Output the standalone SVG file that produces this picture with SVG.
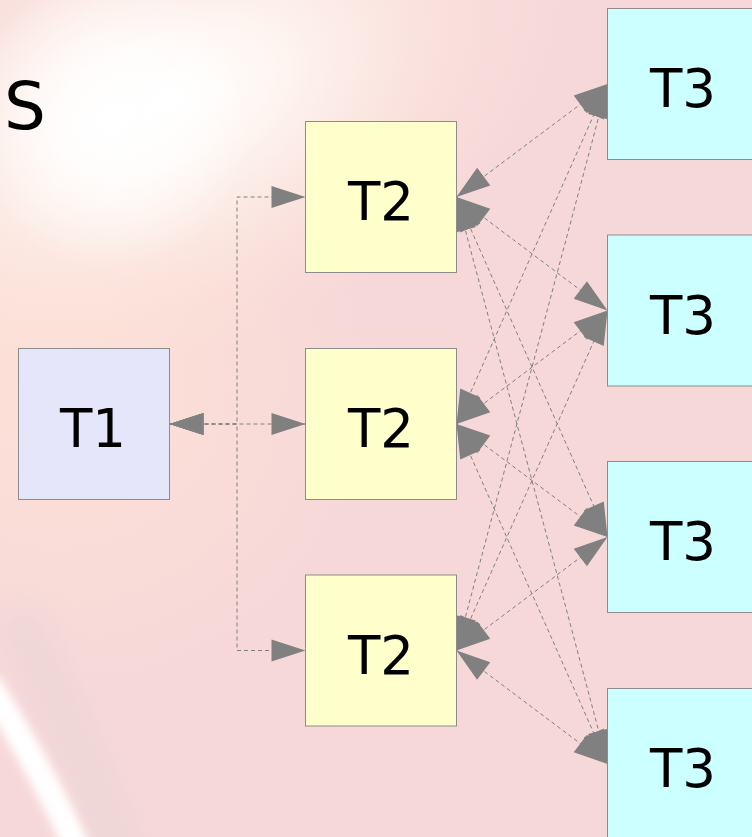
<svg xmlns="http://www.w3.org/2000/svg" width="752" height="837" viewBox="0 0 752 837">
  <defs>
    <radialGradient id="glow" cx="0.5" cy="0.5" r="0.5">
      <stop offset="0" stop-color="#ffffff" stop-opacity="1"/>
      <stop offset="0.25" stop-color="#fffaf6" stop-opacity="0.9"/>
      <stop offset="0.55" stop-color="#fdeee6" stop-opacity="0.65"/>
      <stop offset="0.8" stop-color="#fce6dd" stop-opacity="0.3"/>
      <stop offset="1" stop-color="#fce4dc" stop-opacity="0"/>
    </radialGradient>
    <radialGradient id="core" cx="0.5" cy="0.5" r="0.5">
      <stop offset="0" stop-color="#ffffff" stop-opacity="1"/>
      <stop offset="0.5" stop-color="#ffffff" stop-opacity="0.6"/>
      <stop offset="1" stop-color="#ffffff" stop-opacity="0"/>
    </radialGradient>
    <radialGradient id="warm" cx="0.5" cy="0.5" r="0.5">
      <stop offset="0" stop-color="#fde2d8" stop-opacity="0.9"/>
      <stop offset="0.6" stop-color="#fbdfd6" stop-opacity="0.55"/>
      <stop offset="1" stop-color="#f8dbd8" stop-opacity="0"/>
    </radialGradient>
    <filter id="soft" x="-50%" y="-50%" width="200%" height="200%">
      <feGaussianBlur stdDeviation="5"/>
    </filter>
    <filter id="softer" x="-50%" y="-50%" width="200%" height="200%">
      <feGaussianBlur stdDeviation="14"/>
    </filter>
    <marker id="head" markerUnits="userSpaceOnUse" markerWidth="34" markerHeight="22"
            refX="34" refY="11" orient="auto-start-reverse" overflow="visible">
      <path d="M0,0 L34,11 L0,22 z" fill="#808080"/>
    </marker>
    <style>
      .box { stroke: #8c8c8c; stroke-width: 1; }
      .t1 { fill: #e6e6fa; }
      .t2 { fill: #ffffcc; }
      .t3 { fill: #ccffff; }
      .lbl { font-family: "DejaVu Sans", "Liberation Sans", sans-serif; font-size: 53px; fill: #000; text-anchor: middle; }
      .edge { fill: none; stroke: #808080; stroke-width: 1; stroke-dasharray: 4 3; marker-start: url(#head); marker-end: url(#head); }
    </style>
  </defs>

  <!-- backdrop: soft pink with a bright highlight and a pale rim -->
  <g id="backdrop">
    <rect x="0" y="0" width="752" height="837" fill="#f7d8d9"/>
    <ellipse cx="60" cy="380" rx="330" ry="330" fill="url(#warm)"/>
    <ellipse cx="170" cy="100" rx="420" ry="250" transform="rotate(-24 170 100)" fill="url(#glow)"/>
    <ellipse cx="110" cy="120" rx="140" ry="150" fill="url(#core)"/>
    <path d="M15,610 Q75,735 125,860" fill="none" stroke="#e0d4d4" stroke-width="45" opacity="0.4" filter="url(#softer)"/>
    <path d="M-12,684 Q42,770 78,850" fill="none" stroke="#ffffff" stroke-width="26" filter="url(#soft)"/>
    <text x="4" y="129" font-family="DejaVu Sans, sans-serif" font-size="66" fill="#000">S</text>
  </g>

  <!-- connectors -->
  <g id="connectors">
    <path class="edge" d="M169.5,424 H237 V197 H305.5"/>
    <path class="edge" d="M169.5,424 H305.5"/>
    <path class="edge" d="M169.5,424 H237 V650.5 H305.5"/>

    <path class="edge" d="M456.5,197 L607.5,84"/>
    <path class="edge" d="M456.5,197 L607.5,310.5"/>
    <path class="edge" d="M456.5,197 L607.5,537"/>
    <path class="edge" d="M456.5,197 L607.5,764"/>

    <path class="edge" d="M456.5,424 L607.5,84"/>
    <path class="edge" d="M456.5,424 L607.5,310.5"/>
    <path class="edge" d="M456.5,424 L607.5,537"/>
    <path class="edge" d="M456.5,424 L607.5,764"/>

    <path class="edge" d="M456.5,650.5 L607.5,84"/>
    <path class="edge" d="M456.5,650.5 L607.5,310.5"/>
    <path class="edge" d="M456.5,650.5 L607.5,537"/>
    <path class="edge" d="M456.5,650.5 L607.5,764"/>
  </g>

  <!-- nodes -->
  <g id="t1">
    <rect class="box t1" x="18.5" y="348.5" width="151" height="151"/>
    <text class="lbl" x="93" y="447">T1</text>
  </g>

  <g id="t2a">
    <rect class="box t2" x="305.5" y="121.5" width="151" height="151"/>
    <text class="lbl" x="381" y="220">T2</text>
  </g>
  <g id="t2b">
    <rect class="box t2" x="305.5" y="348.5" width="151" height="151"/>
    <text class="lbl" x="381" y="447">T2</text>
  </g>
  <g id="t2c">
    <rect class="box t2" x="305.5" y="575" width="151" height="151"/>
    <text class="lbl" x="381" y="673.5">T2</text>
  </g>

  <g id="t3a">
    <rect class="box t3" x="607.5" y="8.5" width="151" height="151"/>
    <text class="lbl" x="683" y="107">T3</text>
  </g>
  <g id="t3b">
    <rect class="box t3" x="607.5" y="235" width="151" height="151"/>
    <text class="lbl" x="683" y="333.5">T3</text>
  </g>
  <g id="t3c">
    <rect class="box t3" x="607.5" y="461.5" width="151" height="151"/>
    <text class="lbl" x="683" y="560">T3</text>
  </g>
  <g id="t3d">
    <rect class="box t3" x="607.5" y="688.5" width="151" height="151"/>
    <text class="lbl" x="683" y="787">T3</text>
  </g>
</svg>
